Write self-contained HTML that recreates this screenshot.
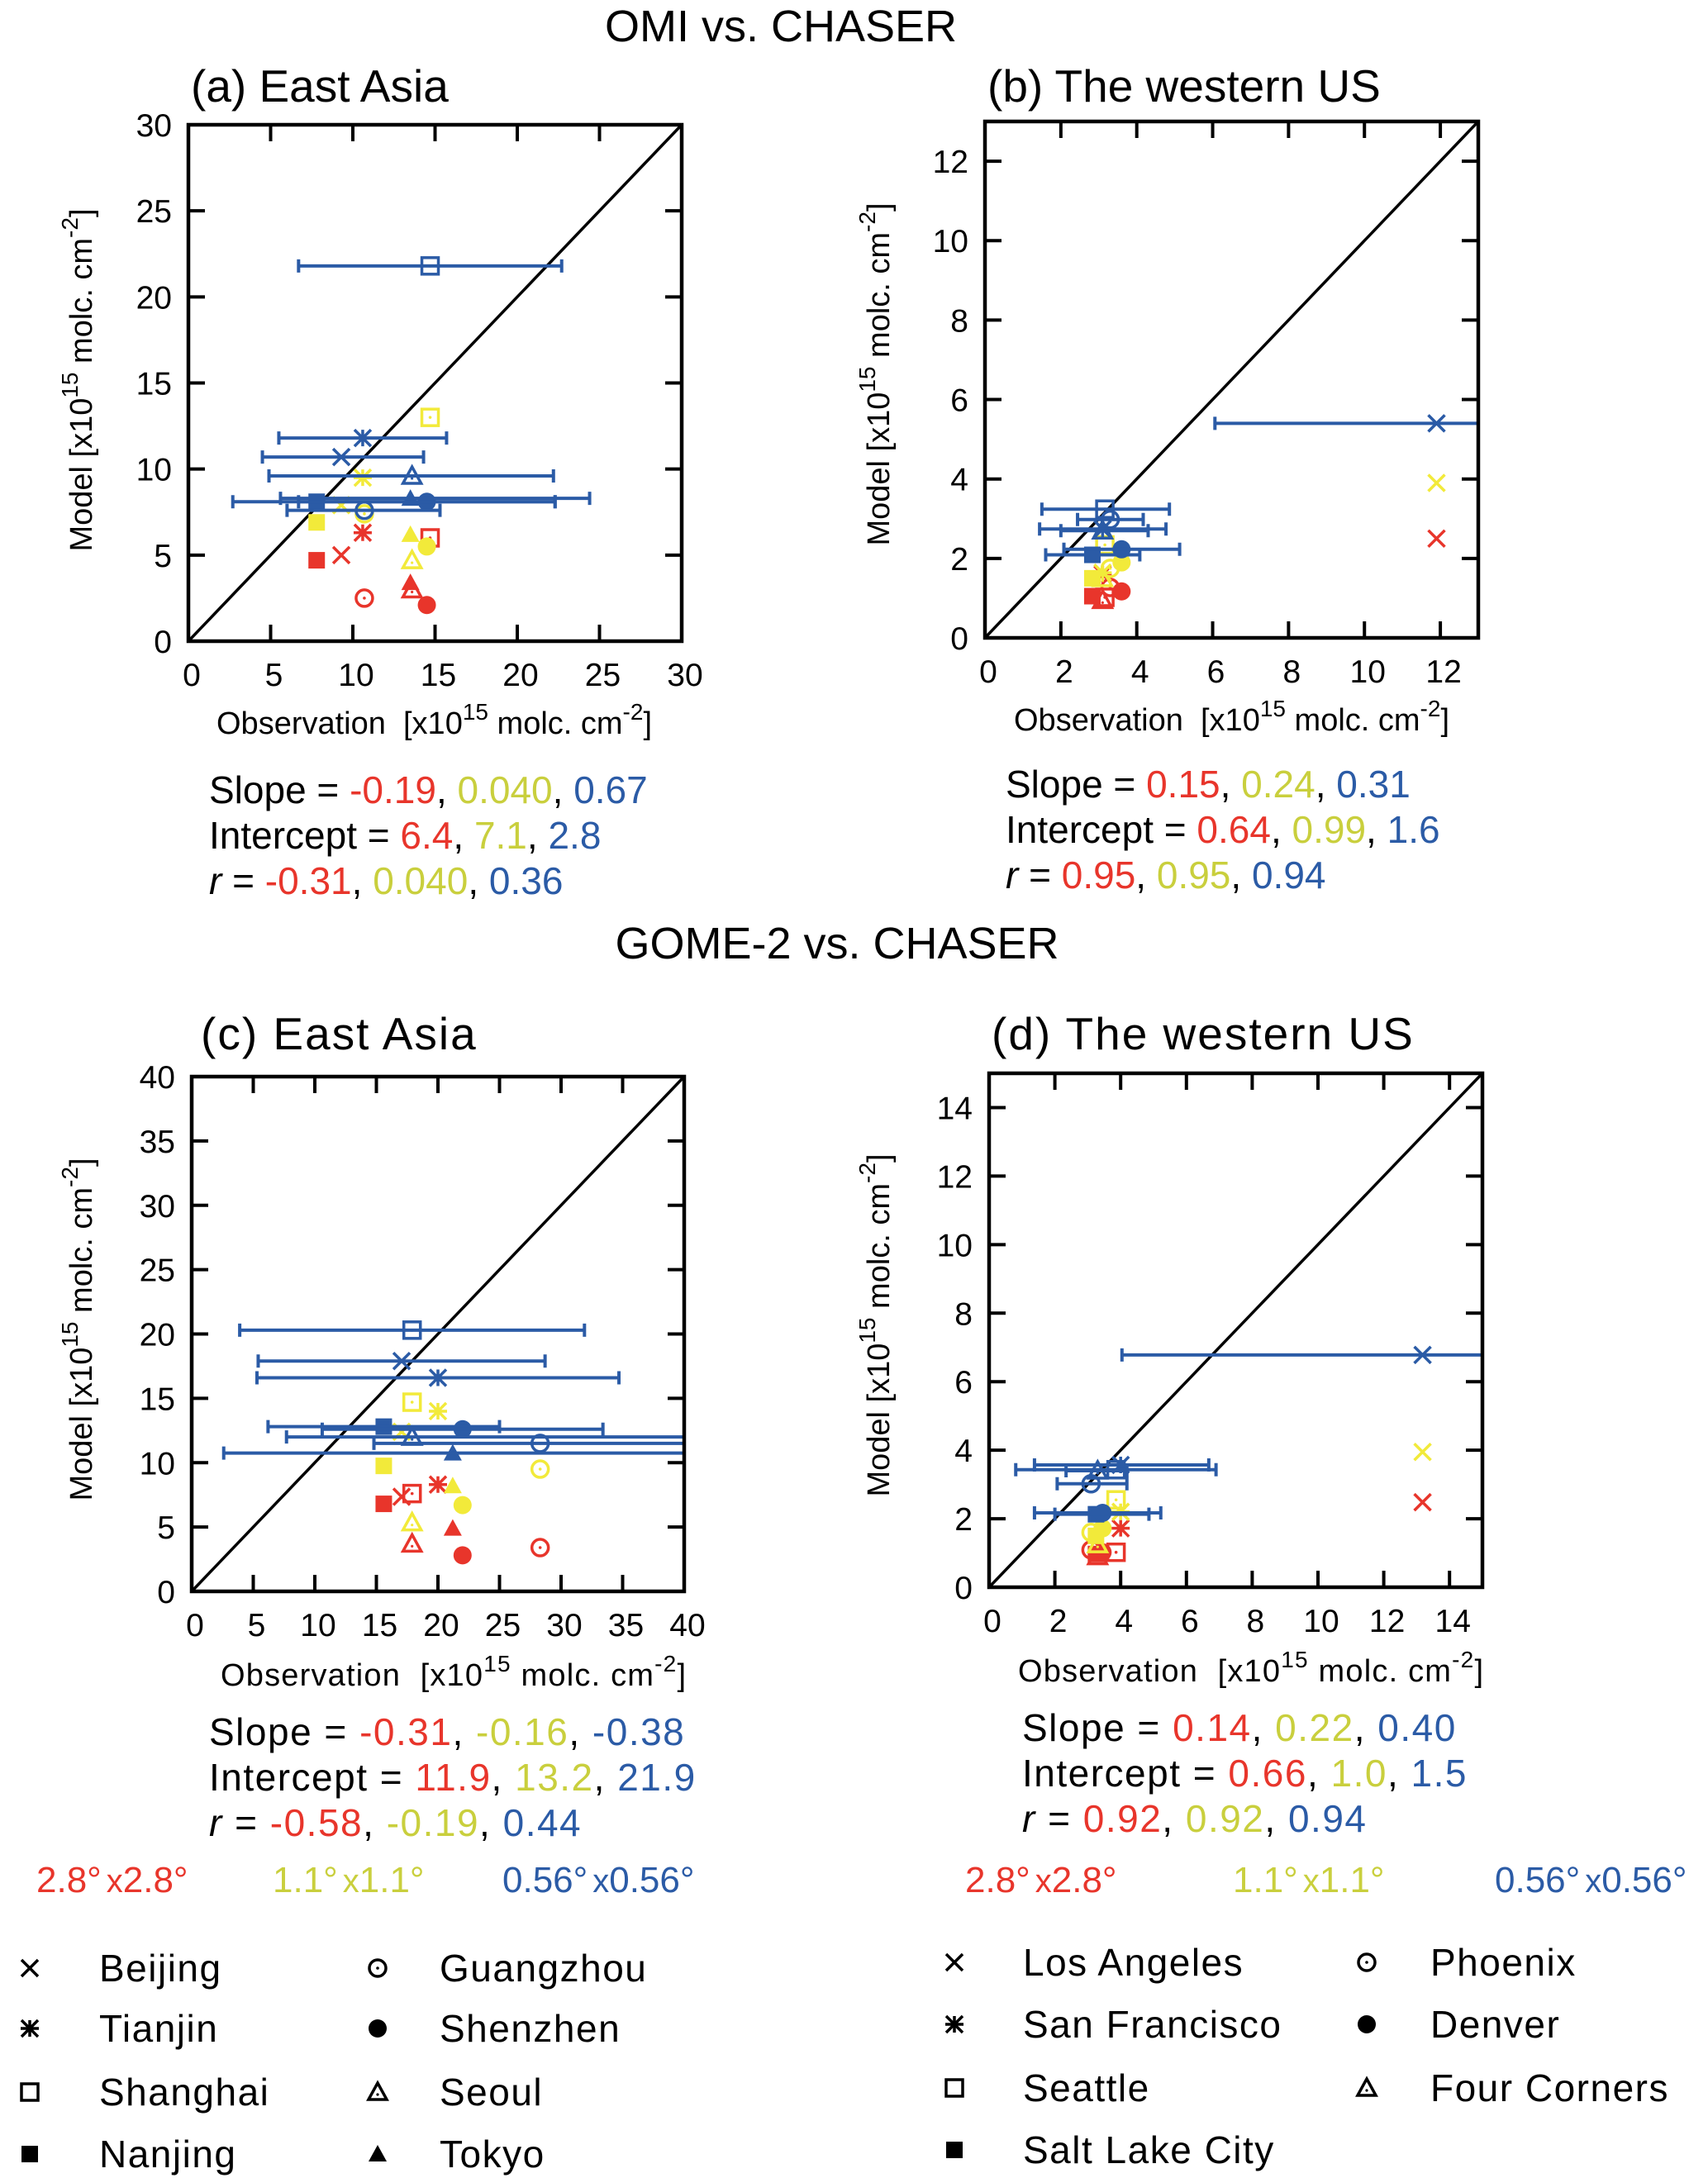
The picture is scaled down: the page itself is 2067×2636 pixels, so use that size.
<!DOCTYPE html>
<html><head><meta charset="utf-8"><style>
html,body{margin:0;padding:0;background:#fff}
svg{display:block;font-family:"Liberation Sans",sans-serif}
</style></head><body>
<svg id="fig" width="2067" height="2636" viewBox="0 0 2067 2636" xmlns="http://www.w3.org/2000/svg">
<text x="945" y="50" font-size="54" text-anchor="middle">OMI vs. CHASER</text>
<text x="1013" y="1160" font-size="54" text-anchor="middle">GOME-2 vs. CHASER</text>
</svg>
<script>
const sitesEA = ['Beijing','Tianjin','Shanghai','Nanjing','Guangzhou','Shenzhen','Seoul','Tokyo'];
const shapesEA = ['x','star','sq','fsq','circ','fcirc','tri','ftri'];
const sitesUS = ['Los Angeles','San Francisco','Seattle','Salt Lake City','Phoenix','Denver','Four Corners'];
const shapesUS = ['x','star','sq','fsq','circ','fcirc','tri'];

const aObs = [9.3,10.6,14.7,7.8,10.7,14.5,13.6,13.5];
const aRed = [5.0,6.3,6.0,4.7,2.5,2.1,3.0,3.4];
const aYel = [7.9,9.5,13.0,6.9,7.4,5.5,4.7,6.2];
const aBlue = [10.7,11.8,21.8,8.1,7.6,8.1,9.6,8.3];
const aErrLo = [4.5,5.5,6.7,2.7,6.0,6.7,4.9,5.6];
const aErrHi = [14.3,15.7,22.7,22.3,15.3,22.3,22.2,24.4];

const bObs = [11.9,3.1,3.16,2.83,3.3,3.6,3.1];
const bRed = [2.5,1.6,1.02,1.05,1.27,1.17,0.95];
const bYel = [3.9,1.64,2.34,1.5,1.75,1.9,1.5];
const bBlue = [5.4,2.74,3.24,2.09,2.98,2.23,2.7];
const bErrLo = [6.06,1.44,1.5,1.6,2.44,2.08,2.0];
const bErrHi = [14.5,4.77,4.86,4.08,4.17,5.13,4.3];

const cObs = [17.05,20.0,17.9,15.6,28.3,22.0,17.9,21.2];
const cRed = [7.35,8.3,7.6,6.8,3.4,2.8,3.7,4.9];
const cYel = [12.4,14.0,14.7,9.75,9.5,6.7,5.35,8.2];
const cBlue = [17.9,16.6,20.3,12.8,11.5,12.6,12.0,10.75];
const cErrLo = [5.4,5.3,3.9,6.2,14.8,10.6,7.7,2.6];
const cErrHi = [28.7,34.7,31.9,25.0,45,33.4,45,45];

const dObs = [13.18,4.0,3.86,3.25,3.1,3.45,3.3];
const dRed = [2.48,1.72,1.02,0.97,1.09,1.02,0.9];
const dYel = [3.95,2.2,2.55,1.5,1.6,1.72,1.25];
const dBlue = [6.78,3.57,3.43,2.13,3.02,2.17,3.4];
const dErrLo = [4.04,1.38,0.81,2.0,2.07,1.38,2.34];
const dErrHi = [16,6.68,6.9,4.86,4.19,5.22,4.19];

const aTicks = [0,5,10,15,20,25,30];
const bTicks = [0,2,4,6,8,10,12];
const cTicks = [0,5,10,15,20,25,30,35,40];
const dTicks = [0,2,4,6,8,10,12,14];

const RED='#e8352b', YEL='#f2ea3a', BLUE='#2b5ba6', YTXT='#c9cf3d';
const NS='http://www.w3.org/2000/svg';
const svg=document.getElementById('fig');
function mk(tag,attrs,parent){const e=document.createElementNS(NS,tag);for(const k in attrs)e.setAttribute(k,attrs[k]);(parent||svg).appendChild(e);return e;}

function marker(g,shape,cx,cy,col,nodot){
  const r=10; let el;
  if(shape==='x'){el=mk('path',{d:`M${cx-r} ${cy-r}L${cx+r} ${cy+r}M${cx-r} ${cy+r}L${cx+r} ${cy-r}`,stroke:col,'stroke-width':3.5,fill:'none'},g);}
  else if(shape==='star'){el=mk('path',{d:`M${cx-r} ${cy-r}L${cx+r} ${cy+r}M${cx-r} ${cy+r}L${cx+r} ${cy-r}M${cx-r-1} ${cy}L${cx+r+1} ${cy}M${cx} ${cy-r}L${cx} ${cy+r}`,stroke:col,'stroke-width':3.5,fill:'none'},g);}
  else if(shape==='sq'){el=mk('g',{},g);mk('rect',{x:cx-r,y:cy-r,width:2*r,height:2*r,fill:'none',stroke:col,'stroke-width':3.5},el);if(!nodot)mk('circle',{cx:cx,cy:cy,r:1.8,fill:col},el);}
  else if(shape==='fsq'){el=mk('rect',{x:cx-r,y:cy-r,width:2*r,height:2*r,fill:col},g);}
  else if(shape==='circ'){el=mk('g',{},g);mk('circle',{cx:cx,cy:cy,r:r,fill:'none',stroke:col,'stroke-width':3.5},el);mk('circle',{cx:cx,cy:cy,r:1.8,fill:col},el);}
  else if(shape==='fcirc'){el=mk('circle',{cx:cx,cy:cy,r:r+1,fill:col},g);}
  else if(shape==='tri'){el=mk('g',{},g);mk('path',{d:`M${cx} ${cy-r-1}L${cx+r+1} ${cy+r-1}L${cx-r-1} ${cy+r-1}Z`,fill:'none',stroke:col,'stroke-width':3.5},el);mk('circle',{cx:cx,cy:cy+3,r:1.6,fill:col},el);}
  else {el=mk('path',{d:`M${cx} ${cy-r-1}L${cx+r+1} ${cy+r-1}L${cx-r-1} ${cy+r-1}Z`,fill:col},g);}
  return el;
}

function panel(id,L,R,T,B,max,ticks,obs,red,yel,blue,lo,hi,shapes,sites){
  const X=v=>L+(R-L)*v/max, Y=v=>B-(B-T)*v/max;
  const g=mk('g',{});
  
  
  const cp=mk('clipPath',{id:'clip-'+id},g); mk('rect',{x:L,y:T,width:R-L,height:B-T},cp);
  ticks.forEach(t=>{
    const x=X(t), y=Y(t);
    if(t>0&&t<max){
      mk('line',{x1:x,y1:B,x2:x,y2:B-20,stroke:'#000','stroke-width':4},g);
      mk('line',{x1:x,y1:T,x2:x,y2:T+20,stroke:'#000','stroke-width':4},g);
      mk('line',{x1:L,y1:y,x2:L+20,y2:y,stroke:'#000','stroke-width':4},g);
      mk('line',{x1:R,y1:y,x2:R-20,y2:y,stroke:'#000','stroke-width':4},g);
    }
    const xl=mk('text',{x:x+4,y:B+54,'font-size':39,'text-anchor':'middle'},g); xl.textContent=t;
    
    
    const yl=mk('text',{x:L-20,y:y+14,'font-size':39,'text-anchor':'end'},g); yl.textContent=t;
    
    
  });
  const diag=mk('line',{x1:X(0),y1:Y(0),x2:X(max),y2:Y(max),stroke:'#000','stroke-width':3.5},g);
  
  
  const pts=mk('g',{'clip-path':`url(#clip-${id})`},g);
  [[red,RED,'2.8deg'],[yel,YEL,'1.1deg'],[blue,BLUE,'0.56deg']].forEach(([vals,col,res])=>{
    vals.forEach((v,i)=>{
      const m=marker(pts,shapes[i],X(obs[i]),Y(v),col);
      
      
    });
  });
  blue.forEach((v,i)=>{
    const y=Y(v), x1=X(lo[i]), x2=X(hi[i]);
    const e=mk('path',{d:`M${x1} ${y}L${x2} ${y}M${x1} ${y-8}L${x1} ${y+8}M${x2} ${y-8}L${x2} ${y+8}`,stroke:BLUE,'stroke-width':4,fill:'none'},pts);
    
    
  });
  const fr=mk('rect',{x:L,y:T,width:R-L,height:B-T,fill:'none',stroke:'#000','stroke-width':4.5},g);
  
  
}

panel('panel-a',228,825,151,776,30,aTicks,aObs,aRed,aYel,aBlue,aErrLo,aErrHi,shapesEA,sitesEA);
panel('panel-b',1192,1789,147,772,13,bTicks,bObs,bRed,bYel,bBlue,bErrLo,bErrHi,shapesUS,sitesUS);
panel('panel-c',232,828,1303,1926,40,cTicks,cObs,cRed,cYel,cBlue,cErrLo,cErrHi,shapesEA,sitesEA);
panel('panel-d',1197,1794,1299,1921,15,dTicks,dObs,dRed,dYel,dBlue,dErrLo,dErrHi,shapesUS,sitesUS);

function txt(x,y,size,html,name,extra){
  const t=mk('text',Object.assign({x:x,y:y,'font-size':size},extra||{}));
  t.innerHTML=html;
  
  
  return t;
}
const unit='[x10<tspan dy="-17" font-size="28">15</tspan><tspan dy="17"> molc.  cm</tspan><tspan dy="-17" font-size="28">-2</tspan><tspan dy="17">]</tspan>';
[['a',231,123,'(a) East Asia',262,888,99,460,0],['b',1195,123,'(b) The western US',1227,884,1064,453,0],
 ['c',243,1270,'(c) East Asia',267,2040,99,1609,2],['d',1200,1270,'(d) The western US',1232,2035,1064,1604,2]].forEach(p=>{
  txt(p[1],p[2],55,p[3],'panel-'+p[0]+'-title',{'letter-spacing':p[8]});
  txt(p[4],p[5],38,'Observation&#160;&#160;'+unit,'panel-'+p[0]+'-x-axis-title',{'letter-spacing':p[8]*0.6});
  txt(0,0,38,'Model '+unit,'panel-'+p[0]+'-y-axis-title',{transform:`translate(${p[6]+12},${p[7]}) rotate(-90)`,'text-anchor':'middle'});
});
function stats(x,y0,dy,rows,pn,ls){
  rows.forEach((r,i)=>{
    txt(x,y0+i*dy,46,`${r[0]} = <tspan fill="${RED}">${r[1]}</tspan>, <tspan fill="${YTXT}">${r[2]}</tspan>, <tspan fill="${BLUE}">${r[3]}</tspan>`,pn+'-stat-'+i,{'letter-spacing':ls});
  });
}
stats(253,972,55,[['Slope','-0.19','0.040','0.67'],['Intercept','6.4','7.1','2.8'],['<tspan font-style="italic">r</tspan>','-0.31','0.040','0.36']],'panel-a',0);
stats(1217,965,55,[['Slope','0.15','0.24','0.31'],['Intercept','0.64','0.99','1.6'],['<tspan font-style="italic">r</tspan>','0.95','0.95','0.94']],'panel-b',0);
stats(253,2112,55,[['Slope','-0.31','-0.16','-0.38'],['Intercept','11.9','13.2','21.9'],['<tspan font-style="italic">r</tspan>','-0.58','-0.19','0.44']],'panel-c',1.5);
stats(1237,2107,55,[['Slope','0.14','0.22','0.40'],['Intercept','0.66','1.0','1.5'],['<tspan font-style="italic">r</tspan>','0.92','0.92','0.94']],'panel-d',1.5);

[[44,RED,'2.8°x2.8°'],[330,YTXT,'1.1°x1.1°'],[608,BLUE,'0.56°x0.56°'],[1168,RED,'2.8°x2.8°'],[1492,YTXT,'1.1°x1.1°'],[1809,BLUE,'0.56°x0.56°']].forEach(r=>{
  txt(r[0],2290,44,r[2].replace(/x/g,'<tspan font-size="40" dx="6">x</tspan><tspan dx="6"></tspan>'),'resolution-label',{fill:r[1]});
});

function legend(mx,nx,ys,shapes,sites,pn){
  shapes.forEach((s,i)=>{
    const y=ys[i%4];
    const col=i<4?0:1;
    const m=marker(svg,s,mx[col],y-16,'#000',true);
    
    
    txt(nx[col],y,46,sites[i],'legend-label-'+sites[i].toLowerCase().replace(/ /g,'-'),{'letter-spacing':1.5});
  });
}
legend([36,457],[120,532],[2398,2471,2548,2623],shapesEA,sitesEA,'ea');
legend([1155,1654],[1238,1731],[2391,2466,2543,2618],shapesUS,sitesUS,'us');
</script>
</body></html>
